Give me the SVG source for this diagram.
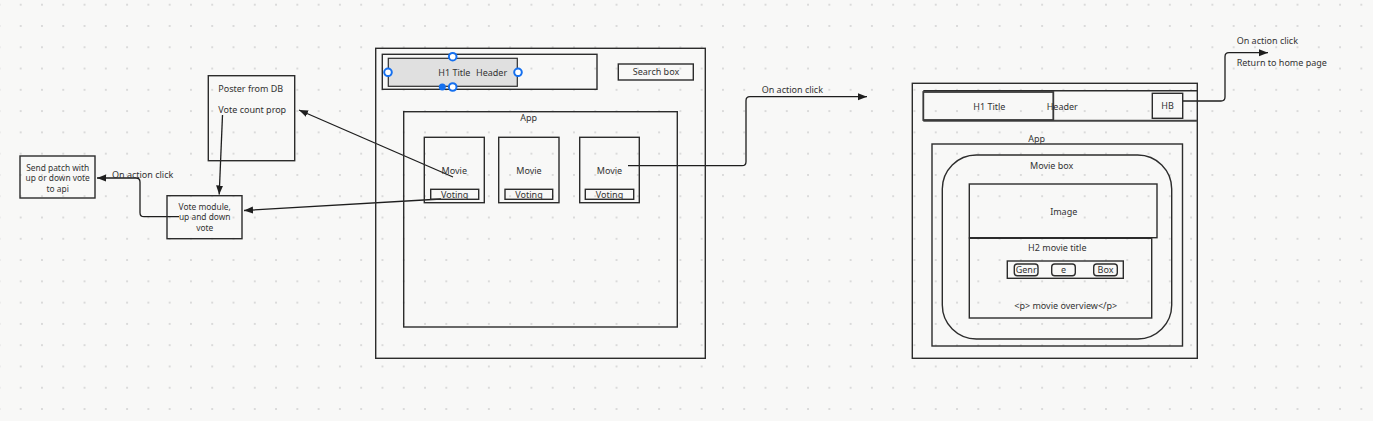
<svg xmlns="http://www.w3.org/2000/svg" width="1373" height="421" viewBox="0 0 1373 421">
<defs>
<pattern id="dots" patternUnits="userSpaceOnUse" x="10.06" y="-5.94" width="21.28" height="21.28">
<circle cx="10.64" cy="10.64" r="0.9" fill="#cdcdcd"/>
</pattern>
<marker id="arr" markerUnits="userSpaceOnUse" markerWidth="10" markerHeight="8" refX="9" refY="4" orient="auto">
<path d="M0,0.5 L9,4 L0,7.5 z" fill="#1e1e1e"/>
</marker>
<style>
.b{fill:none;stroke:#2c2c2c;stroke-width:1.4}
.t{font-family:"Noto Sans","Open Sans",sans-serif;font-size:9px;fill:#333}
.s{font-size:8.4px}
.m{text-anchor:middle}
.c{fill:none;stroke:#1e1e1e;stroke-width:1.3}
.h{fill:#fff;stroke:#1570ef;stroke-width:2}
</style>
</defs>
<rect width="1373" height="421" fill="#f8f8f7"/>
<rect width="1373" height="421" fill="url(#dots)"/>

<g id="connectors">
<path class="c" d="M222.5,115 L219.2,194.5" marker-end="url(#arr)"/>
<path class="c" d="M179,216.7 H144 Q140,216.7 140,212.7 V182 Q140,178 136,178 H97" marker-end="url(#arr)"/>
<path class="c" d="M453,177 L299,110" marker-end="url(#arr)"/>
<path class="c" d="M441,199 L244,210.5" marker-end="url(#arr)"/>
<path class="c" d="M628,165.7 H742 Q746,165.7 746,161.7 V100.7 Q746,96.7 750,96.7 H867" marker-end="url(#arr)"/>
<path class="c" d="M1183,101 H1221 Q1225,101 1225,97 V56.7 Q1225,52.7 1229,52.7 H1268" marker-end="url(#arr)"/>
<text class="t" x="112" y="178">On action click</text>
<text class="t" x="761.7" y="93">On action click</text>
<text class="t" x="1236.7" y="44">On action click</text>
<text class="t" x="1236.7" y="65.5">Return to home page</text>
</g>

<g id="send-patch">
<rect class="b" x="20" y="156" width="75" height="42"/>
<text class="t s m" x="57.7" y="171">Send patch with</text>
<text class="t s m" x="57.7" y="181.3">up or down vote</text>
<text class="t s m" x="57.7" y="191.6">to api</text>
</g>

<g id="poster">
<rect class="b" x="208.3" y="75.7" width="86.4" height="85"/>
<text class="t" x="218.3" y="92">Poster from DB</text>
<text class="t" x="218.3" y="113">Vote count prop</text>
</g>

<g id="vote-module">
<rect class="b" x="167" y="195.7" width="75" height="43"/>
<text class="t s m" x="204.7" y="210">Vote module,</text>
<text class="t s m" x="204.7" y="220.4">up and down</text>
<text class="t s m" x="204.7" y="230.8">vote</text>
</g>

<g id="home-page">
<rect class="b" x="375.7" y="48.3" width="329.6" height="310"/>
</g>

<g id="home-header">
<rect class="b" x="382.3" y="54.3" width="214.7" height="35"/>
<rect x="388.3" y="58.3" width="129" height="28" fill="#e0e0e0" stroke="#2c2c2c" stroke-width="1.2"/>
<text class="t" x="438.3" y="75.8" fill="#444">H1 Title</text>
<text class="t" x="476" y="75.8" fill="#444">Header</text>
<circle class="h" cx="452.7" cy="56.7" r="3.8"/>
<circle class="h" cx="388" cy="72.3" r="3.8"/>
<circle class="h" cx="518" cy="72.3" r="3.8"/>
<circle cx="442.3" cy="87" r="3.5" fill="#1570ef"/>
<circle class="h" cx="452.7" cy="87" r="3.8"/>
</g>

<g id="search-box">
<rect class="b" x="618.3" y="64" width="75" height="16"/>
<text class="t m" x="656" y="75.2">Search box</text>
</g>

<g id="home-app">
<rect class="b" x="403.7" y="111.7" width="273.6" height="215.3"/>
<text class="t m" x="528.7" y="120.5">App</text>
</g>

<g id="movie-1">
<rect class="b" x="424.3" y="137.3" width="60" height="65.4"/>
<text class="t m" x="454.3" y="174">Movie</text>
<rect class="b" x="430.7" y="189.3" width="48" height="10"/>
<text class="t m" x="454.7" y="197.5">Voting</text>
</g>

<g id="movie-2">
<rect class="b" x="498.7" y="137.3" width="60.3" height="65.4"/>
<text class="t m" x="529" y="174">Movie</text>
<rect class="b" x="505" y="189.3" width="47.7" height="10"/>
<text class="t m" x="529" y="197.5">Voting</text>
</g>

<g id="movie-3">
<rect class="b" x="579.7" y="137.3" width="59.6" height="65.4"/>
<text class="t m" x="609.5" y="174">Movie</text>
<rect class="b" x="585.3" y="189.3" width="48.4" height="10"/>
<text class="t m" x="609.5" y="197.5">Voting</text>
</g>

<g id="detail-page">
<rect class="b" x="912.3" y="83.3" width="285" height="275"/>
</g>

<g id="detail-header">
<path class="b" d="M923.3,90.7 H1197.3"/>
<path d="M923.3,120.7 H1197.3" fill="none" stroke="#444" stroke-width="2"/>
<rect x="923.3" y="92" width="130" height="28" fill="none" stroke="#3a3a3a" stroke-width="1.8"/>
<text class="t" x="973.3" y="110">H1 Title</text>
<text class="t" x="1046.7" y="110">Header</text>
</g>

<g id="hb">
<rect class="b" x="1152.3" y="93.3" width="30.4" height="25"/>
<text class="t m" x="1167.5" y="109.2">HB</text>
</g>

<g id="detail-app">
<rect class="b" x="932" y="144" width="250.5" height="202"/>
<text class="t m" x="1036.7" y="141.5">App</text>
</g>

<g id="movie-box">
<rect class="b" x="942.3" y="155" width="229.4" height="184" rx="34" ry="34"/>
<text class="t m" x="1051.7" y="169">Movie box</text>
</g>

<g id="image">
<rect class="b" x="969.3" y="184" width="187.7" height="53.7"/>
<text class="t m" x="1063.7" y="215">Image</text>
</g>

<g id="movie-info">
<rect class="b" x="969.3" y="238.3" width="182.4" height="79.7"/>
<text class="t m" x="1057.3" y="251">H2 movie title</text>
<text class="t m" x="1065.7" y="309">&lt;p&gt; movie overview&lt;/p&gt;</text>
</g>

<g id="genre-row">
<rect class="b" x="1007.3" y="261" width="116" height="17.3"/>
<rect class="b" x="1014.3" y="264" width="23.7" height="11.7" rx="3"/>
<text class="t m" x="1026.2" y="273">Genr</text>
<rect class="b" x="1051.7" y="264" width="23.6" height="11.7" rx="3"/>
<text class="t m" x="1063.5" y="273">e</text>
<rect class="b" x="1093.7" y="264" width="23.6" height="11.7" rx="3"/>
<text class="t m" x="1105.5" y="273">Box</text>
</g>
</svg>
